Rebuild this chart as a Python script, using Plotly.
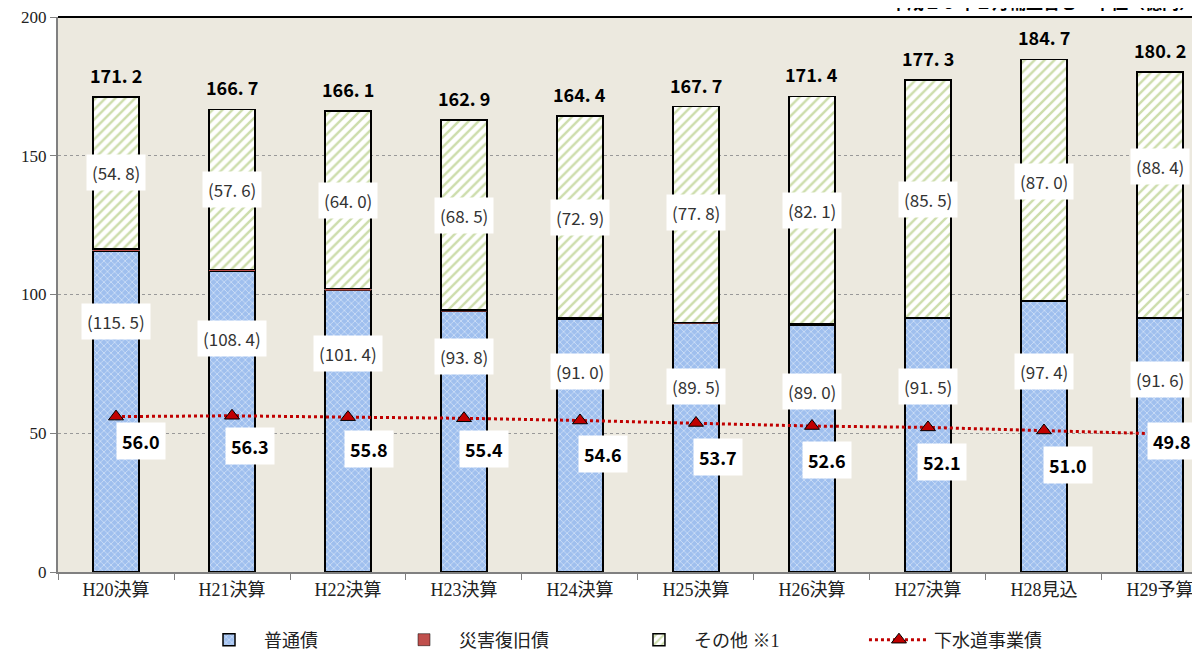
import plotly.graph_objects as go

categories = ["H20決算", "H21決算", "H22決算", "H23決算", "H24決算",
              "H25決算", "H26決算", "H27決算", "H28見込", "H29予算"]
futsu = [115.5, 108.4, 101.4, 93.8, 91.0, 89.5, 89.0, 91.5, 97.4, 91.6]
saigai = [0.9, 0.7, 0.7, 0.6, 0.5, 0.4, 0.3, 0.3, 0.3, 0.2]
sonota = [54.8, 57.6, 64.0, 68.5, 72.9, 77.8, 82.1, 85.5, 87.0, 88.4]
totals = [171.2, 166.7, 166.1, 162.9, 164.4, 167.7, 171.4, 177.3, 184.7, 180.2]
gesuido = [56.0, 56.3, 55.8, 55.4, 54.6, 53.7, 52.6, 52.1, 51.0, 49.8]

# label placement (layout, not data)
futsu_label_y = [90.1, 84.0, 78.9, 77.8, 72.4, 67.0, 65.2, 66.7, 72.1, 69.2]
sonota_label_y = [144.1, 137.7, 133.7, 128.6, 127.9, 129.7, 130.1, 134.4, 140.9, 146.3]
line_label_dx = [25, 18, 21, 20, 23, 22, 15, 14, 24, 12]
line_label_dy = [-24, -30, -32, -31, -34, -34, -34, -35, -35, -7]
legend_x = [0.155, 0.3175, 0.5133, 0.7133]

serif = '"Liberation Serif", "DejaVu Serif", "Noto Sans CJK JP", serif'
gothic = '"Noto Sans CJK JP", sans-serif'

fig = go.Figure()
fig.add_trace(go.Bar(
    x=categories, y=futsu, name="普通債", width=0.4, legend="legend",
    marker=dict(color="#9FBFEE", line=dict(color="black", width=1.5),
                pattern=dict(shape="x", fgcolor="white", bgcolor="#9FBFEE",
                             size=5, solidity=0.3)),
))
fig.add_trace(go.Bar(
    x=categories, y=saigai, name="災害復旧債", width=0.4, legend="legend2",
    marker=dict(color="#C0504D", line=dict(color="black", width=0.5)),
))
fig.add_trace(go.Bar(
    x=categories, y=sonota, name="その他 ※1", width=0.4, legend="legend3",
    marker=dict(color="white", line=dict(color="black", width=1.5),
                pattern=dict(shape="/", fgcolor="#9BBB59", bgcolor="white",
                             size=7, solidity=0.35)),
))
fig.add_trace(go.Scatter(
    x=categories, y=gesuido, name="下水道事業債", mode="lines+markers", legend="legend4",
    line=dict(color="#C00000", width=3, dash="dot"),
    marker=dict(symbol="triangle-up", size=13, color="#C00000",
                line=dict(color="black", width=1)),
))

ann = []
for i, c in enumerate(categories):
    ann.append(dict(x=c, y=totals[i], text=f"{totals[i]:.1f}".replace(".", ". "),
                    showarrow=False, yshift=22, yanchor="middle",
                    font=dict(family=gothic, size=18, color="black", weight="bold")))
    ann.append(dict(x=c, y=futsu_label_y[i], text=f"({futsu[i]:.1f})".replace(".", ". "),
                    showarrow=False, bgcolor="white", borderpad=5,
                    font=dict(family=gothic, size=17, color="#333333")))
    ann.append(dict(x=c, y=sonota_label_y[i], text=f"({sonota[i]:.1f})".replace(".", ". "),
                    showarrow=False, bgcolor="white", borderpad=5,
                    font=dict(family=gothic, size=17, color="#333333")))
    ann.append(dict(x=c, y=gesuido[i], text=f"{gesuido[i]:.1f}",
                    showarrow=False, bgcolor="white", borderpad=5,
                    xshift=line_label_dx[i], yshift=line_label_dy[i],
                    font=dict(family=gothic, size=18, color="black", weight="bold")))

ann.append(dict(xref="paper", yref="paper", x=1.0, y=1.0, xanchor="right",
                yanchor="middle", yshift=16, xshift=-2, showarrow=False,
                text="平成２９年２月補正含む　単位（億円）",
                font=dict(family=gothic, size=17, color="black", weight="bold")))

def leg(x):
    return dict(orientation="h", xref="container", yref="container", x=x,
                xanchor="left", y=0.0292, yanchor="middle", itemwidth=60,
                bgcolor="rgba(0,0,0,0)",
                font=dict(family=serif, size=18, color="#222222"))

fig.update_layout(
    width=1200, height=651,
    margin=dict(l=50, r=8, t=9, b=87, autoexpand=False),
    barmode="stack",
    plot_bgcolor="#ECE9DF",
    paper_bgcolor="white",
    showlegend=True,
    legend=leg(legend_x[0]),
    legend2=leg(legend_x[1]),
    legend3=leg(legend_x[2]),
    legend4=leg(legend_x[3]),
    annotations=ann,
    xaxis=dict(range=[-0.5, 9.345], showgrid=False, ticks="outside",
               tickson="boundaries", ticklen=6, tickcolor="#808080",
               showline=True, linecolor="#808080", linewidth=2, automargin=False,
               tickfont=dict(family=serif, size=18, color="#222222")),
    yaxis=dict(range=[0, 200], tickvals=[0, 50, 100, 150, 200],
               showgrid=True, gridcolor="#999999", griddash="dot", gridwidth=1,
               ticks="outside", ticklen=6, tickcolor="#808080", automargin=False,
               ticklabeloverflow="allow",
               showline=True, linecolor="#808080", linewidth=2, zeroline=False,
               tickfont=dict(family=serif, size=17, color="#222222")),
    shapes=[dict(type="line", xref="paper", yref="paper", x0=0, x1=1, y0=1, y1=1,
                 line=dict(color="black", width=2))],
)

fig.write_html("out.html")
